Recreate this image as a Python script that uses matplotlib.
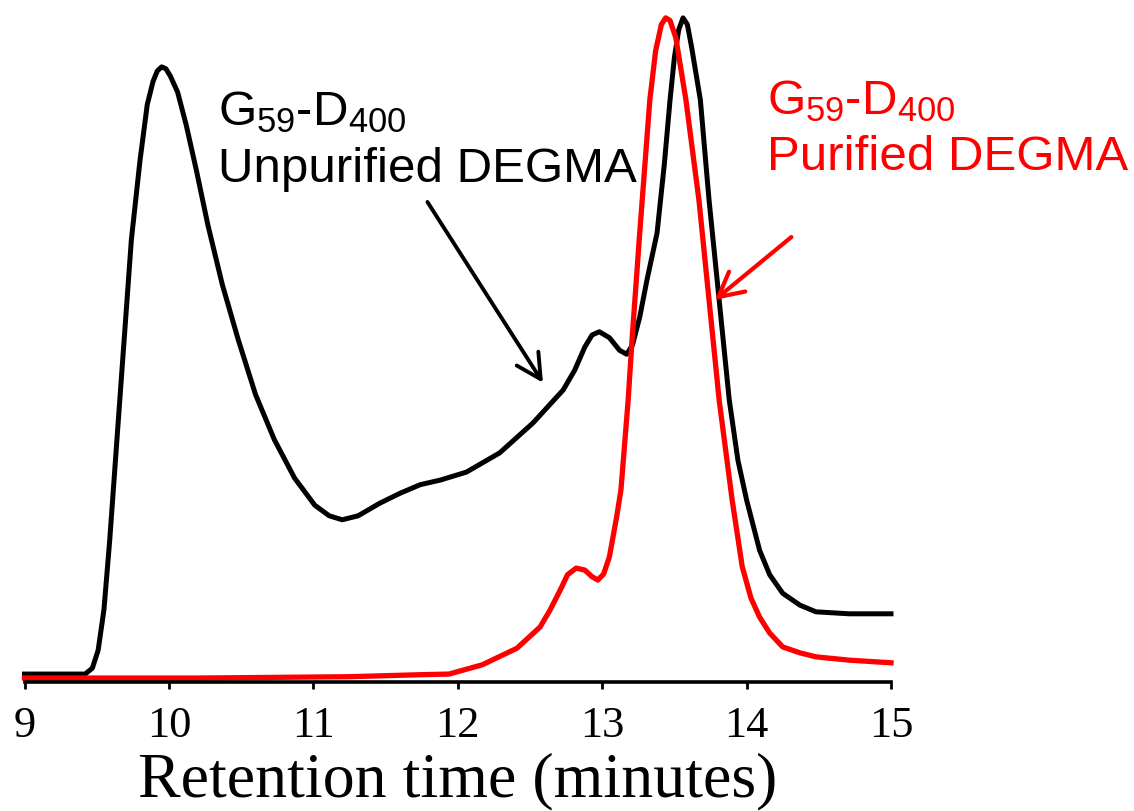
import numpy as np
import matplotlib
matplotlib.use("Agg")
import matplotlib.pyplot as plt

# retention time (min) and normalised detector signal
t_unpurified = [9.00, 9.25, 9.42, 9.47, 9.51, 9.55, 9.59, 9.64, 9.69, 9.74,
                9.80, 9.85, 9.89, 9.92, 9.95, 9.98, 10.01, 10.06, 10.12, 10.19,
                10.27, 10.37, 10.48, 10.60, 10.73, 10.87, 11.01, 11.11, 11.20, 11.31,
                11.46, 11.60, 11.74, 11.88, 12.06, 12.29, 12.52, 12.73, 12.81, 12.88,
                12.93, 12.98, 13.05, 13.12, 13.17, 13.21, 13.26, 13.31, 13.38, 13.43,
                13.47, 13.50, 13.53, 13.56, 13.59, 13.62, 13.68, 13.74, 13.81, 13.88,
                13.94, 14.00, 14.09, 14.16, 14.25, 14.37, 14.48, 14.71, 15.00]
s_unpurified = [0.009, 0.009, 0.009, 0.018, 0.045, 0.106, 0.211, 0.363, 0.514, 0.665,
                0.785, 0.869, 0.904, 0.920, 0.926, 0.923, 0.912, 0.888, 0.838, 0.770,
                0.687, 0.597, 0.514, 0.431, 0.363, 0.305, 0.264, 0.248, 0.242, 0.248,
                0.267, 0.282, 0.295, 0.302, 0.314, 0.343, 0.388, 0.438, 0.468, 0.503,
                0.521, 0.526, 0.517, 0.498, 0.492, 0.506, 0.548, 0.604, 0.675, 0.778,
                0.876, 0.940, 0.982, 1.000, 0.990, 0.955, 0.876, 0.725, 0.574, 0.423,
                0.332, 0.272, 0.196, 0.159, 0.131, 0.113, 0.103, 0.100, 0.100]

t_purified = [9.00, 10.22, 11.25, 11.74, 11.94, 12.17, 12.41, 12.57, 12.64, 12.71,
              12.76, 12.82, 12.88, 12.93, 12.97, 13.01, 13.05, 13.10, 13.13, 13.18,
              13.21, 13.26, 13.33, 13.37, 13.41, 13.44, 13.47, 13.51, 13.58, 13.67,
              13.74, 13.81, 13.90, 13.97, 14.03, 14.09, 14.16, 14.25, 14.37, 14.48,
              14.71, 15.00]
s_purified = [0.003, 0.003, 0.005, 0.008, 0.009, 0.023, 0.048, 0.080, 0.106, 0.136,
              0.159, 0.169, 0.166, 0.156, 0.151, 0.160, 0.186, 0.246, 0.287, 0.423,
              0.524, 0.675, 0.876, 0.950, 0.990, 1.000, 0.996, 0.970, 0.876, 0.725,
              0.574, 0.423, 0.272, 0.171, 0.124, 0.095, 0.071, 0.050, 0.041, 0.035,
              0.030, 0.026]

xticks = [9, 10, 11, 12, 13, 14, 15]

plt.rcParams["mathtext.default"] = "regular"

fig = plt.figure(figsize=(11.34, 8.11), dpi=100)
ax = fig.add_axes([24.5 / 1134, 1 - 682 / 811, 866.5 / 1134, 682 / 811])

ax.plot(t_unpurified, s_unpurified, color="black", lw=3.6,
        solid_joinstyle="round", clip_on=False)
ax.plot(t_purified, s_purified, color="#ff0000", lw=3.8,
        solid_joinstyle="round", clip_on=False)

ax.set_xlim(9, 15)
ax.set_ylim(-0.003, 1.027)
for side in ["left", "right", "top"]:
    ax.spines[side].set_visible(False)
ax.spines["bottom"].set_linewidth(2.6)
ax.set_yticks([])
ax.set_xticks(xticks)
ax.set_xticklabels([str(x) for x in xticks], family="Liberation Serif", fontsize=32)
ax.tick_params(axis="x", direction="out", length=5, width=2, pad=12)
ax.set_xlabel("Retention time (minutes)", family="Liberation Serif",
              fontsize=46, labelpad=5)

# the last line's baseline sits at the given y
ax.text(10.34, 0.752, "G$_{59}$-D$_{400}$\nUnpurified DEGMA",
        family="Liberation Sans", fontsize=35.5, color="black",
        ha="left", va="baseline", linespacing=1.33)
ax.text(14.14, 0.770, "G$_{59}$-D$_{400}$\nPurified DEGMA",
        family="Liberation Sans", fontsize=35.5, color="#ff0000",
        ha="left", va="baseline", linespacing=1.3)

ax.annotate("", xy=(12.59, 0.449), xytext=(11.79, 0.722),
            arrowprops=dict(arrowstyle="->,head_length=0.8,head_width=0.42",
                            mutation_scale=22, lw=2.8, color="black",
                            shrinkA=0, shrinkB=0))
ax.annotate("", xy=(13.78, 0.574), xytext=(14.31, 0.669),
            arrowprops=dict(arrowstyle="->,head_length=0.8,head_width=0.42",
                            mutation_scale=22, lw=3.0, color="#ff0000",
                            shrinkA=0, shrinkB=0))

fig.savefig("out.png", dpi=100)
